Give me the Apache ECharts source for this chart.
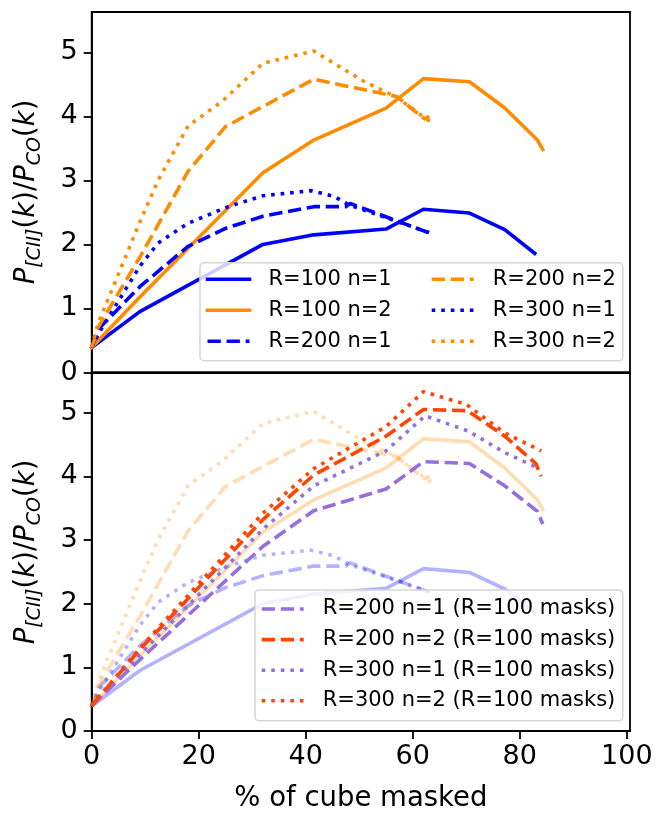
<!DOCTYPE html>
<html>
<head>
<meta charset="utf-8">
<script src="https://cdn.jsdelivr.net/npm/echarts@6/dist/echarts.min.js"></script>
<style>
html, body { margin: 0; padding: 0; background: #fff; }
#chart { width: 656px; height: 814px; }
</style>
</head>
<body>
<div id="chart"></div>
<script>
// Percentage of the cube that is masked (x) and P_[CII](k)/P_CO(k) (y)
const r100n1X = [0, 9, 32, 41.5, 55, 62, 70.6, 77.2, 82.8];
const r100n1Y = [0.39, 0.95, 2.0, 2.15, 2.24, 2.55, 2.49, 2.23, 1.86];

const r100n2X = [0, 9, 32, 41.5, 55, 62, 70.6, 77.2, 83.3, 84.3];
const r100n2Y = [0.39, 1.18, 3.12, 3.63, 4.13, 4.59, 4.54, 4.13, 3.63, 3.48];

const r200n1X = [0, 1.5, 9, 18, 25, 32, 41.5, 47.5, 48.3, 63.4];
const r200n1Y = [0.39, 0.70, 1.34, 1.97, 2.25, 2.44, 2.59, 2.59, 2.64, 2.17];

const r200n2X = [0, 1.5, 9, 18, 25, 41.5, 57, 62.2, 63.1];
const r200n2Y = [0.39, 0.75, 1.80, 3.14, 3.84, 4.58, 4.31, 3.96, 4.00];

const r300n1X = [0, 1.5, 9, 12.4, 18, 25.5, 32, 41, 45.3, 48, 63.6];
const r300n1Y = [0.39, 0.64, 1.66, 2.02, 2.33, 2.59, 2.76, 2.84, 2.75, 2.62, 2.17];

const r300n2X = [0, 1.2, 9.3, 12.4, 18, 24.3, 32, 41.5, 51, 57, 62.5, 64];
const r300n2Y = [0.39, 0.77, 2.41, 3.0, 3.85, 4.23, 4.83, 5.02, 4.54, 4.3, 3.96, 3.88];

// Larger-R runs evaluated with the R=100 masks
const m200n1X = [0, 9, 32, 41.5, 55, 62, 70.6, 77.2, 83.3, 84.3];
const m200n1Y = [0.40, 1.12, 2.90, 3.46, 3.80, 4.23, 4.20, 3.85, 3.45, 3.25];

const m200n2X = [0, 9, 32, 41.5, 55, 62, 70.2, 77.2, 83, 84];
const m200n2Y = [0.40, 1.28, 3.32, 4.02, 4.63, 5.05, 5.03, 4.63, 4.20, 4.00];

const m300n1X = [0, 9, 32, 41.5, 55, 62.3, 70.4, 77.2, 83.4];
const m300n1Y = [0.40, 1.20, 3.17, 3.85, 4.40, 4.95, 4.71, 4.37, 4.13];

const m300n2X = [0, 9, 32, 41.5, 55, 62, 70, 77.2, 84];
const m300n2Y = [0.40, 1.30, 3.42, 4.12, 4.78, 5.33, 5.13, 4.68, 4.40];

const xTicks = [0, 20, 40, 60, 80, 100];
const yTicks = [0, 1, 2, 3, 4, 5];
const X_MAX = 100.6;
const Y_MAX = 5.63;

const BLUE = '#0000ff';
const ORANGE = '#ff8c00';
const PURPLE = '#9370db';
const RED = '#ff4500';
const FONT = 'DejaVu Sans';

const LW = 3.6;
const DASHED = [3.7 * LW, 1.6 * LW];
const DOTTED = [1.0 * LW, 1.65 * LW];

function curve(name, xs, ys, color, dash, panel, opacity) {
  return {
    type: 'line',
    name: name,
    xAxisIndex: panel,
    yAxisIndex: panel,
    data: xs.map((x, i) => [x, ys[i]]),
    symbol: 'none',
    showSymbol: false,
    silent: true,
    animation: false,
    itemStyle: { color: color },
    lineStyle: {
      color: color,
      width: LW,
      type: dash,
      opacity: opacity,
      cap: dash === 'solid' ? 'square' : 'butt',
      join: 'round'
    }
  };
}

const base = [
  ['R=100 n=1', r100n1X, r100n1Y, BLUE, 'solid'],
  ['R=100 n=2', r100n2X, r100n2Y, ORANGE, 'solid'],
  ['R=200 n=1', r200n1X, r200n1Y, BLUE, DASHED],
  ['R=200 n=2', r200n2X, r200n2Y, ORANGE, DASHED],
  ['R=300 n=1', r300n1X, r300n1Y, BLUE, DOTTED],
  ['R=300 n=2', r300n2X, r300n2Y, ORANGE, DOTTED]
];

const masked = [
  ['R=200 n=1 (R=100 masks)', m200n1X, m200n1Y, PURPLE, DASHED],
  ['R=200 n=2 (R=100 masks)', m200n2X, m200n2Y, RED, DASHED],
  ['R=300 n=1 (R=100 masks)', m300n1X, m300n1Y, PURPLE, DOTTED],
  ['R=300 n=2 (R=100 masks)', m300n2X, m300n2Y, RED, DOTTED]
];

const series = [];
base.forEach(b => series.push(curve(b[0], b[1], b[2], b[3], b[4], 0, 1)));
base.forEach(b => series.push(curve(b[0] + ' (faint)', b[1], b[2], b[3], b[4], 1, 0.3)));
masked.forEach(m => series.push(curve(m[0], m[1], m[2], m[3], m[4], 1, 1)));

const axisLineStyle = { color: '#000', width: 1.8 };

function xAxisFor(panel, withLabels) {
  const ax = {
    gridIndex: panel,
    type: 'value',
    min: 0,
    max: X_MAX,
    axisLine: { show: true, onZero: false, lineStyle: axisLineStyle },
    splitLine: { show: false },
    axisTick: { show: withLabels, length: 8, lineStyle: axisLineStyle, customValues: xTicks },
    axisLabel: {
      show: withLabels, customValues: xTicks, margin: 12,
      fontSize: 27, fontFamily: FONT, color: '#000'
    }
  };
  if (withLabels) {
    ax.name = '% of cube masked';
    ax.nameLocation = 'middle';
    ax.nameGap = 54;
    ax.nameTextStyle = { fontSize: 27.5, fontFamily: FONT, color: '#000' };
  }
  return ax;
}

function yAxisFor(panel) {
  return {
    gridIndex: panel,
    type: 'value',
    min: 0,
    max: Y_MAX,
    axisLine: { show: true, onZero: false, lineStyle: axisLineStyle },
    splitLine: { show: false },
    axisTick: { show: true, length: 8, lineStyle: axisLineStyle, customValues: yTicks },
    axisLabel: {
      customValues: yTicks, margin: 14,
      fontSize: 27, fontFamily: FONT, color: '#000'
    }
  };
}

// Legend: a framed box with a short line sample and a label per entry
function legendBox(x, y, w, h) {
  return {
    type: 'rect',
    z: 5,
    shape: { x: x, y: y, width: w, height: h, r: 4 },
    style: { fill: 'rgba(255,255,255,0.8)', stroke: '#d6d6d6', lineWidth: 1.6 }
  };
}

function legendEntry(entry, x0, cy) {
  const dash = entry[4];
  return [
    {
      type: 'line',
      z: 6,
      shape: { x1: x0, y1: cy, x2: x0 + 42, y2: cy },
      style: {
        stroke: entry[3],
        lineWidth: LW,
        lineDash: dash === 'solid' ? null : dash,
        lineCap: dash === 'solid' ? 'square' : 'butt'
      }
    },
    {
      type: 'text',
      z: 6,
      x: x0 + 61,
      y: cy,
      style: {
        text: entry[0],
        fontSize: 21,
        fontFamily: FONT,
        fill: '#000',
        align: 'left',
        verticalAlign: 'middle'
      }
    }
  ];
}

const yLabelRich = {
  i: { fontStyle: 'italic', fontSize: 27.5, fontFamily: FONT, lineHeight: 34, verticalAlign: 'middle' },
  r: { fontSize: 27.5, fontFamily: FONT, lineHeight: 34, verticalAlign: 'middle' },
  s: { fontStyle: 'italic', fontSize: 19, fontFamily: FONT, lineHeight: 19, padding: [16, 0, 0, 0], verticalAlign: 'middle' }
};
const yLabelText = '{i|P}{s|[CII]}{r|(}{i|k}{r|)/}{i|P}{s|CO}{r|(}{i|k}{r|)}';

function yLabel(cy) {
  return {
    type: 'text',
    x: 27,
    y: cy,
    rotation: Math.PI / 2,
    z: 10,
    style: {
      text: yLabelText,
      rich: yLabelRich,
      fill: '#000',
      align: 'center',
      verticalAlign: 'middle'
    }
  };
}

const graphics = [
  legendBox(200, 262.7, 422.7, 98),
  legendBox(255, 590, 367.7, 130.7),
  yLabel(192),
  yLabel(552)
];
const topRows = [279.3, 310.3, 341.3];
base.slice(0, 3).forEach((b, i) => graphics.push(...legendEntry(b, 207.5, topRows[i])));
base.slice(3).forEach((b, i) => graphics.push(...legendEntry(b, 431.7, topRows[i])));
const botRows = [609, 639.6, 670.2, 700.8];
masked.forEach((m, i) => graphics.push(...legendEntry(m, 261.7, botRows[i])));

const chart = echarts.init(document.getElementById('chart'), null, { renderer: 'canvas' });
chart.setOption({
  animation: false,
  backgroundColor: '#fff',
  grid: [
    { left: 91.7, width: 538.3, top: 12, height: 360.5, show: true, borderColor: '#000', borderWidth: 1.8 },
    { left: 91.7, width: 538.3, top: 372.5, height: 360.5, show: true, borderColor: '#000', borderWidth: 1.8 }
  ],
  xAxis: [xAxisFor(0, false), xAxisFor(1, true)],
  yAxis: [yAxisFor(0), yAxisFor(1)],
  graphic: graphics,
  series: series
});
</script>
</body>
</html>
